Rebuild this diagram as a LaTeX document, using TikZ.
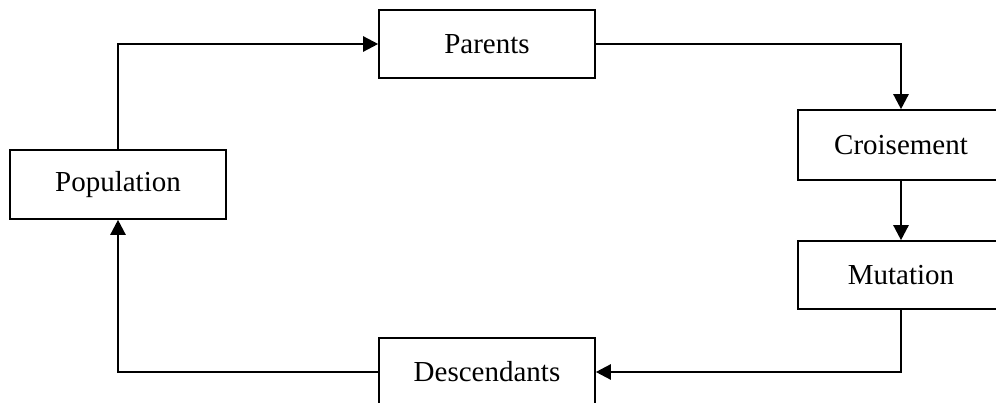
\documentclass[tikz,border=0pt]{standalone}
\usepackage{fontspec}
\setmainfont{Liberation Serif}
\usetikzlibrary{arrows.meta}
\begin{document}
\begin{tikzpicture}[x=1pt,y=-1pt,
        boite/.style={draw,rectangle,line width=1.6pt,minimum width=216pt,minimum height=68pt,
                      inner sep=0pt,font=\fontsize{29}{34}\selectfont},
        fleche/.style={line width=2.4pt,-{Triangle[length=15pt,width=15pt]}}]
        \useasboundingbox (0,0) rectangle (996,403);
        \node [boite,minimum height=69pt](pop)at(118,184.5){Population};
        \node [boite](par)at(487,44){Parents};
        \node [boite,minimum width=206pt,minimum height=70pt](cro)at(901,145){Croisement};
        \node [boite,minimum width=206pt](mut)at(901,275){Mutation};
        \node [boite](des)at(487,372){Descendants};

        \draw [fleche] (pop.north) |- (par.west);
        \draw [fleche] (par.east) -| (cro.north);
        \draw [fleche] (cro) -- (mut);
        \draw [fleche] (mut.south) |- (des.east);
        \draw [fleche] (des.west) -| (pop.south);
    \end{tikzpicture}
\end{document}
